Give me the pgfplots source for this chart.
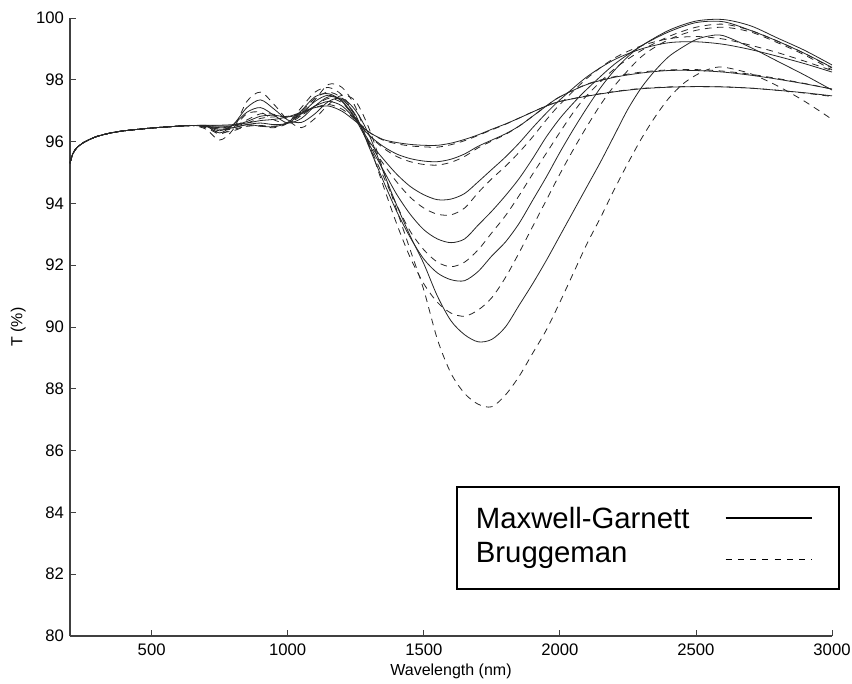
\documentclass[border=0pt]{standalone}
\usepackage{fontspec}
\setmainfont{Liberation Sans}
\usepackage{pgfplots}
\pgfplotsset{compat=1.18}
\usetikzlibrary{calc}
\pgfplotsset{
  ms/.style={black!85, line width=0.6pt, smooth, no markers, forget plot},
  md/.style={black!85, line width=0.6pt, dash pattern=on 5pt off 4pt, smooth, no markers, forget plot},
  mgleg/.style={black, line width=1pt, solid, legend image code/.code={\draw[##1] (0.75pt,2pt) -- (65.25pt,2pt); \path (0pt,0pt) (71.25pt,0pt);}},
  brleg/.style={black, line width=0.8pt, dash pattern=on 4.5pt off 4.7pt, legend image code/.code={\draw[##1] (0.75pt,-3pt) -- (65.25pt,-3pt); \path (0pt,0pt) (71.25pt,0pt);}}
}
\begin{document}
\begin{tikzpicture}
\begin{axis}[
  scale only axis, width=571.5pt, height=463.5pt,
  xmin=200, xmax=3000, ymin=80, ymax=100,
  axis lines=left,
  x axis line style={-}, y axis line style={-},
  axis line style={draw=black!75, line width=0.8pt},
  xtick={500,1000,...,3000}, ytick={80,82,...,100},
  tick align=inside, major tick length=4.5pt,
  tick style={black!75, line width=0.6pt},
  ticklabel style={font=\fontsize{12.5}{15}\selectfont},
  xticklabel style={yshift=-2pt, inner xsep=0pt},
  yticklabel style={xshift=-1pt},
  /pgf/number format/assume math mode=true,
  /pgf/number format/1000 sep={},
  xlabel={Wavelength (nm)}, ylabel={T (\%)},
  label style={font=\fontsize{12}{14}\selectfont},
  xlabel style={at={(axis description cs:0.5,-0.057)}, anchor=center},
  ylabel style={at={(axis description cs:-0.068,0.5)}, anchor=center},
  legend plot pos=right,
  legend style={at={(0.5066,0.0744)}, anchor=south west, draw=black, line width=1.3pt, fill=white,
    inner xsep=14.25pt, inner ysep=14.75pt, row sep=5pt, column sep=0pt,
    font=\fontsize{22}{26}\selectfont,
    nodes={inner xsep=0pt, inner ysep=0pt, text width=186pt, text height=16pt, text depth=5pt, anchor=west}},
]
% ---- pair 1
\addplot[ms] coordinates {(200,95.3) (210,95.6) (225,95.8) (250,95.97) (275,96.08) (300,96.17) (350,96.28) (400,96.35) (500,96.44) (600,96.5) (650,96.52)
 (700,96.53) (750,96.53) (800,96.55) (850,96.6) (900,96.68) (950,96.72) (1000,96.8) (1050,96.95) (1100,97.1) (1150,97.15) (1200,96.98) (1250,96.65) (1300,96.3) (1350,96.07) (1400,95.97) (1450,95.91) (1500,95.88) (1550,95.88) (1600,95.95) (1650,96.07) (1700,96.22) (1750,96.4) (1800,96.57) (1850,96.76) (1900,96.96) (1950,97.15) (2000,97.3) (2100,97.47) (2200,97.61) (2300,97.71) (2400,97.76) (2500,97.78) (2600,97.77) (2700,97.73) (2800,97.66) (2900,97.58) (3000,97.48)};
\addplot[md] coordinates {(200,95.3) (210,95.6) (225,95.8) (250,95.97) (275,96.08) (300,96.17) (350,96.28) (400,96.35) (500,96.44) (600,96.5) (650,96.52)
 (700,96.53) (750,96.5) (800,96.5) (850,96.6) (900,96.75) (950,96.8) (1000,96.82) (1050,96.92) (1100,97.1) (1150,97.2) (1200,97.05) (1250,96.7) (1300,96.3) (1350,96.05) (1400,95.93) (1450,95.86) (1500,95.83) (1550,95.82) (1600,95.9) (1650,96.03) (1700,96.2) (1750,96.38) (1800,96.56) (1850,96.76) (1900,96.96) (1950,97.15) (2000,97.3) (2100,97.48) (2200,97.62) (2300,97.72) (2400,97.77) (2500,97.78) (2600,97.77) (2700,97.73) (2800,97.66) (2900,97.57) (3000,97.46)};
% ---- pair 2
\addplot[ms] coordinates {(200,95.3) (210,95.6) (225,95.8) (250,95.97) (275,96.08) (300,96.17) (350,96.28) (400,96.35) (500,96.44) (600,96.5) (650,96.52)
 (700,96.52) (750,96.5) (800,96.52) (850,96.65) (900,96.82) (950,96.85) (1000,96.8) (1050,96.9) (1100,97.15) (1150,97.3) (1200,97.15) (1250,96.7) (1300,96.2) (1350,95.85) (1400,95.6) (1450,95.45) (1500,95.37) (1550,95.35) (1600,95.43) (1650,95.6) (1700,95.85) (1750,96.05) (1800,96.25) (1850,96.5) (1900,96.82) (1950,97.15) (2000,97.45) (2100,97.85) (2200,98.08) (2300,98.22) (2400,98.3) (2500,98.3) (2600,98.25) (2700,98.15) (2800,98.02) (2900,97.87) (3000,97.7)};
\addplot[md] coordinates {(200,95.3) (210,95.6) (225,95.8) (250,95.97) (275,96.08) (300,96.17) (350,96.28) (400,96.35) (500,96.44) (600,96.5) (650,96.52)
 (700,96.5) (750,96.45) (800,96.5) (850,96.7) (900,96.9) (950,96.88) (1000,96.75) (1050,96.85) (1100,97.15) (1150,97.4) (1200,97.25) (1250,96.75) (1300,96.2) (1350,95.8) (1400,95.52) (1450,95.35) (1500,95.26) (1550,95.24) (1600,95.33) (1650,95.52) (1700,95.8) (1750,96.02) (1800,96.23) (1850,96.5) (1900,96.82) (1950,97.15) (2000,97.45) (2100,97.86) (2200,98.1) (2300,98.25) (2400,98.32) (2500,98.33) (2600,98.28) (2700,98.18) (2800,98.04) (2900,97.88) (3000,97.7)};
% ---- pair 3
\addplot[ms] coordinates {(200,95.3) (210,95.6) (225,95.8) (250,95.97) (275,96.08) (300,96.17) (350,96.28) (400,96.35) (500,96.44) (600,96.5) (650,96.52)
 (700,96.5) (750,96.45) (800,96.45) (850,96.55) (900,96.6) (950,96.55) (1000,96.6) (1050,96.9) (1100,97.3) (1150,97.5) (1200,97.3) (1250,96.75) (1300,96.0) (1350,95.45) (1400,94.95) (1450,94.55) (1500,94.28) (1550,94.12) (1600,94.14) (1650,94.32) (1700,94.7) (1750,95.1) (1800,95.5) (1850,95.95) (1900,96.45) (1950,96.92) (2000,97.35) (2100,98.1) (2200,98.65) (2300,99.0) (2400,99.2) (2500,99.23) (2600,99.15) (2700,98.98) (2800,98.76) (2900,98.52) (3000,98.25)};
\addplot[md] coordinates {(200,95.3) (210,95.6) (225,95.8) (250,95.97) (275,96.08) (300,96.17) (350,96.28) (400,96.35) (500,96.44) (600,96.5) (650,96.52)
 (700,96.48) (750,96.4) (800,96.4) (850,96.5) (900,96.52) (950,96.5) (1000,96.6) (1050,96.95) (1100,97.4) (1150,97.6) (1200,97.4) (1250,96.8) (1300,95.95) (1350,95.3) (1400,94.7) (1450,94.2) (1500,93.85) (1550,93.65) (1600,93.63) (1650,93.85) (1700,94.35) (1750,94.8) (1800,95.2) (1850,95.65) (1900,96.15) (1950,96.7) (2000,97.2) (2100,98.05) (2200,98.7) (2300,99.1) (2400,99.33) (2500,99.4) (2600,99.32) (2700,99.12) (2800,98.88) (2900,98.6) (3000,98.3)};
% ---- pair 4
\addplot[ms] coordinates {(200,95.3) (210,95.6) (225,95.8) (250,95.97) (275,96.08) (300,96.17) (350,96.28) (400,96.35) (500,96.44) (600,96.5) (650,96.52)
 (700,96.5) (750,96.4) (800,96.45) (850,96.55) (900,96.5) (950,96.48) (1000,96.62) (1050,97.0) (1100,97.45) (1150,97.55) (1200,97.3) (1250,96.7) (1300,95.9) (1350,95.1) (1400,94.3) (1450,93.65) (1500,93.15) (1550,92.85) (1600,92.73) (1650,92.85) (1700,93.3) (1750,93.75) (1800,94.25) (1850,94.8) (1900,95.45) (1950,96.15) (2000,96.75) (2050,97.25) (2100,97.7) (2200,98.5) (2300,99.1) (2400,99.55) (2500,99.85) (2600,99.88) (2700,99.6) (2800,99.25) (2900,98.85) (3000,98.4)};
\addplot[md] coordinates {(200,95.3) (210,95.6) (225,95.8) (250,95.97) (275,96.08) (300,96.17) (350,96.28) (400,96.35) (500,96.44) (600,96.5) (650,96.52)
 (700,96.45) (750,96.3) (800,96.35) (850,96.5) (900,96.5) (950,96.45) (1000,96.6) (1050,97.1) (1100,97.6) (1150,97.75) (1200,97.5) (1250,96.8) (1300,95.85) (1350,94.9) (1400,93.95) (1450,93.1) (1500,92.5) (1550,92.1) (1600,91.95) (1650,92.1) (1700,92.5) (1750,93.05) (1800,93.6) (1850,94.25) (1900,94.95) (1950,95.62) (2000,96.3) (2050,96.95) (2100,97.5) (2200,98.35) (2300,98.95) (2400,99.4) (2500,99.7) (2600,99.8) (2700,99.6) (2800,99.25) (2900,98.85) (3000,98.38)};
% ---- pair 5
\addplot[ms] coordinates {(200,95.3) (210,95.6) (225,95.8) (250,95.97) (275,96.08) (300,96.17) (350,96.28) (400,96.35) (500,96.44) (600,96.5) (650,96.52)
 (700,96.5) (750,96.35) (800,96.55) (850,96.95) (900,97.1) (950,96.85) (1000,96.6) (1050,96.75) (1100,97.15) (1150,97.45) (1200,97.35) (1250,96.85) (1300,95.8) (1350,94.75) (1400,93.75) (1450,92.9) (1500,92.2) (1550,91.75) (1600,91.53) (1650,91.5) (1700,91.8) (1750,92.3) (1800,92.75) (1850,93.35) (1900,94.1) (1950,94.85) (2000,95.65) (2050,96.4) (2100,97.1) (2150,97.75) (2200,98.3) (2250,98.75) (2300,99.1) (2400,99.6) (2500,99.9) (2600,99.95) (2700,99.75) (2800,99.35) (2900,98.95) (3000,98.48)};
\addplot[md] coordinates {(200,95.3) (210,95.6) (225,95.8) (250,95.97) (275,96.08) (300,96.17) (350,96.28) (400,96.35) (500,96.44) (600,96.5) (650,96.52)
 (700,96.45) (750,96.25) (800,96.45) (850,96.9) (900,96.95) (950,96.7) (1000,96.6) (1050,96.85) (1100,97.35) (1150,97.85) (1200,97.75) (1250,97.1) (1300,95.9) (1350,94.6) (1400,93.35) (1450,92.25) (1500,91.4) (1550,90.8) (1600,90.45) (1650,90.35) (1700,90.55) (1750,90.95) (1800,91.6) (1850,92.4) (1900,93.25) (1950,94.1) (2000,94.95) (2050,95.75) (2100,96.5) (2150,97.2) (2200,97.8) (2300,98.75) (2400,99.3) (2500,99.6) (2600,99.7) (2700,99.55) (2800,99.2) (2900,98.8) (3000,98.32)};
% ---- pair 6
\addplot[ms] coordinates {(200,95.3) (210,95.6) (225,95.8) (250,95.97) (275,96.08) (300,96.17) (350,96.28) (400,96.35) (500,96.44) (600,96.5) (650,96.52)
 (700,96.5) (750,96.28) (800,96.55) (850,97.1) (900,97.35) (950,97.05) (1000,96.7) (1050,96.62) (1100,96.9) (1150,97.3) (1200,97.4) (1250,97.0) (1300,96.2) (1350,95.05) (1400,93.95) (1450,92.95) (1500,92.05) (1550,91.0) (1600,90.2) (1650,89.75) (1700,89.52) (1750,89.6) (1800,90.0) (1850,90.7) (1900,91.4) (1950,92.15) (2000,92.95) (2050,93.75) (2100,94.55) (2150,95.35) (2200,96.2) (2250,97.05) (2300,97.75) (2350,98.3) (2400,98.75) (2450,99.05) (2500,99.3) (2550,99.42) (2600,99.43) (2700,99.05) (2800,98.6) (2900,98.15) (3000,97.67)};
\addplot[md] coordinates {(200,95.3) (210,95.6) (225,95.8) (250,95.97) (275,96.08) (300,96.17) (350,96.28) (400,96.35) (500,96.44) (600,96.5) (650,96.52)
 (700,96.4) (750,96.05) (800,96.4) (850,97.3) (900,97.6) (950,97.2) (1000,96.7) (1050,96.45) (1100,96.75) (1150,97.2) (1200,97.5) (1250,97.3) (1300,96.4) (1350,95.1) (1400,93.8) (1450,92.5) (1500,91.2) (1550,89.6) (1600,88.5) (1650,87.85) (1700,87.5) (1750,87.42) (1800,87.8) (1850,88.4) (1900,89.15) (1950,89.9) (2000,90.8) (2050,91.75) (2100,92.7) (2150,93.55) (2200,94.45) (2250,95.3) (2300,96.1) (2350,96.8) (2400,97.4) (2450,97.85) (2500,98.15) (2550,98.35) (2600,98.41) (2700,98.2) (2800,97.8) (2900,97.3) (3000,96.72)};
% ---- legend
\addlegendimage{mgleg}
\addlegendentry{Maxwell-Garnett}
\addlegendimage{brleg}
\addlegendentry{Bruggeman}
\end{axis}
\path ($(current axis.south west)+(-52.5pt,-36pt)$) rectangle ($(current axis.north east)+(15pt,13.5pt)$);
\end{tikzpicture}
\end{document}
